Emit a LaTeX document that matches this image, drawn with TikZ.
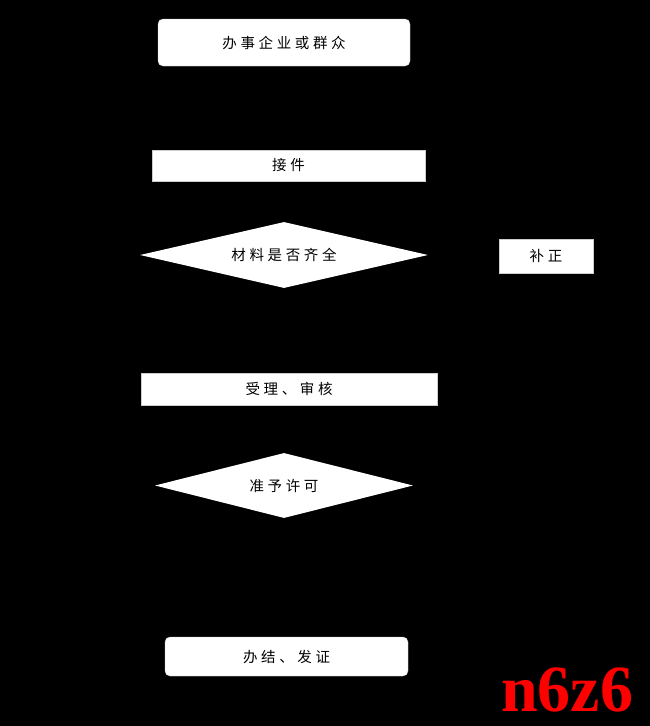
\documentclass[tikz,border=0pt]{standalone}
\usepackage{fontspec}
\setmainfont{Liberation Serif}
\newfontfamily\cjk[LetterSpace=25]{Noto Sans CJK SC}
\usepackage{xcolor}
\usetikzlibrary{shapes.geometric,arrows.meta}

\tikzset{
  roundbox/.style={draw=gray!40, fill=white, rounded corners=5pt, inner sep=0pt, font=\cjk\fontsize{14.5}{16}\selectfont},
  plainbox/.style={draw=gray!40, fill=white, inner sep=0pt, font=\cjk\fontsize{14.5}{16}\selectfont},
  choice/.style={diamond, fill=white, inner sep=0pt, font=\cjk\fontsize{14.5}{16}\selectfont},
  flow/.style={black, -{Stealth}, shorten >=1pt, shorten <=1pt},
}

\begin{document}
\begin{tikzpicture}[x=1pt, y=-1pt]
  \fill[black] (0,0) rectangle (650,726);
  \useasboundingbox (0,0) rectangle (650,726);
  \node[roundbox, minimum width=252pt, minimum height=47pt] (apply) at (284,42.5) {办事企业或群众};
  \node[plainbox, minimum width=273pt, minimum height=31pt] (receive) at (288.5,165.5) {接件};
  \node[choice, aspect=4.36, minimum width=288pt, minimum height=66pt] (check) at (284,255) {材料是否齐全};
  \node[plainbox, minimum width=94pt, minimum height=34pt] (amend) at (546,256) {补正};
  \node[plainbox, minimum width=296pt, minimum height=32pt] (review) at (289,389) {受理、审核};
  \node[choice, aspect=3.97, minimum width=258pt, minimum height=65pt] (permit) at (284,485.5) {准予许可};
  \node[roundbox, minimum width=243pt, minimum height=39pt] (issue) at (286.5,656.5) {办结、发证};
  \draw[flow] (apply) -- (receive);
  \draw[flow] (receive) -- (check);
  \draw[flow] (check) -- (amend);
  \draw[flow] (amend) |- (receive);
  \draw[flow] (check) -- (review);
  \draw[flow] (review) -- (permit);
  \draw[flow] (permit) -- (issue);
  \node[text=red, font=\bfseries\fontsize{66}{66}\selectfont, inner sep=0pt] (mark) at (567,690) {n6z6};
\end{tikzpicture}
\end{document}
